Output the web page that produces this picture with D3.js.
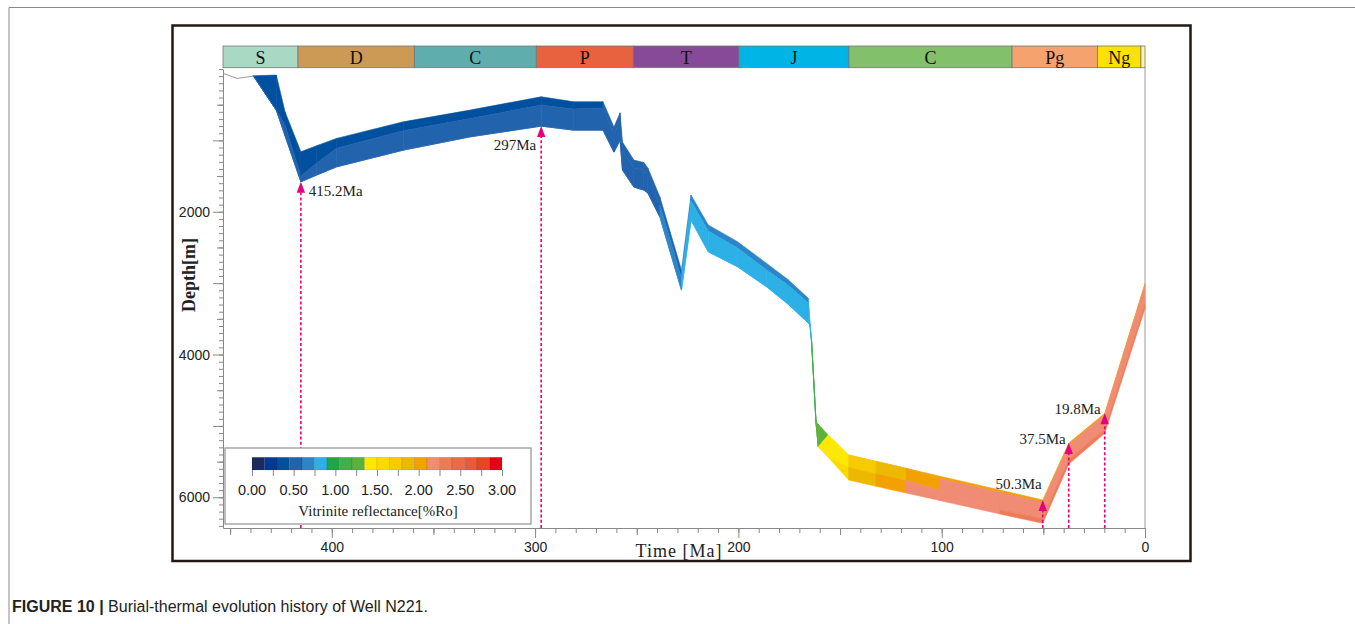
<!DOCTYPE html>
<html>
<head>
<meta charset="utf-8">
<script src="https://cdn.jsdelivr.net/npm/d3@7"></script>
<style>
  body { margin: 0; background: #fff; }
  svg { display: block; }
</style>
</head>
<body>
<svg id="chart" width="1355" height="624"></svg>
<script>
// ---- geological periods (Ma) ----
var periodNames = ["S", "D", "C", "P", "T", "J", "C", "Pg", "Ng", ""];
var periodStart = [453.5, 416.6, 359.4, 299.4, 251.7, 199.7, 145.6, 65.4, 23.4, 2];
var periodEnd   = [416.6, 359.4, 299.4, 251.7, 199.7, 145.6, 65.4, 23.4, 2, 0];
var periodColors = ["#a9d9c5", "#cd9a55", "#5fadad", "#e9623f", "#874a98",
                    "#00b5e5", "#82c06b", "#f5a26f", "#fde102", "#fff59d"];

// ---- burial history: age (Ma) and depth (m) of the surfaces ----
var ages = [438.6, 427.3, 423.0, 415.2, 407.4, 397.6, 364.8, 332.0, 297, 281.1,
            266.6, 261.2, 258.2, 257.0, 251.4, 246.5, 244.5, 238.6, 228.0, 223.3,
            214.8, 200.4, 186.1, 175.6, 165.6, 164.8, 164.0, 161.8, 160.7, 155.8,
            145.8, 132.3, 117.6, 100.9, 71.3, 50.3, 37.5, 19.8, 0];
var depthTop = [95, 85, 599, 1160, 1074, 972, 740, 576, 389, 459,
                459, 814, 613, 1024, 1276, 1311, 1388, 1794, 2817, 1766,
                2186, 2420, 2723, 2950, 3213, 3559, 3797, 4941, 4976, 5128,
                5408, 5497, 5594, 5705, 5898, 6038, 5240, 4824, 3003];
var depthA   = [95, 576, 786, 1500, 1322, 1110, 865, 695, 505, 560,
                548, 926, 725, 1136, 1388, 1416, 1486, 1906, 2929, 1850,
                2270, 2508, 2817, 3027, 3279, 3573, 3811, 4954, 5291, 5128,
                5408, 5497, 5594, 5740, 5930, 6065, 5262, 4845, 3025];
var depthB   = [95, 576, 934, 1580, 1485, 1370, 1136, 950, 800, 856,
                856, 1164, 996, 1416, 1654, 1696, 1738, 2074, 3097, 2116,
                2560, 2770, 3051, 3293, 3559, 3587, 3825, 4967, 5291, 5439,
                5583, 5670, 5766, 5900, 6180, 6300, 5470, 5045, 3290];
var depthBase = [95, 576, 934, 1580, 1485, 1370, 1136, 950, 800, 856,
                 856, 1164, 996, 1416, 1654, 1696, 1738, 2074, 3097, 2116,
                 2560, 2770, 3051, 3293, 3559, 3587, 3825, 4967, 5291, 5439,
                 5758, 5845, 5938, 6045, 6234, 6364, 5534, 5104, 3353];

// vitrinite reflectance (%Ro) of each sub-layer, per time interval
var roUpper  = [0.38, 0.38, 0.38, 0.38, 0.38, 0.38, 0.38, 0.38, 0.38, 0.38,
                0.52, 0.52, 0.52, 0.52, 0.52, 0.52, 0.52, 0.52, 0.65, 0.65,
                0.65, 0.65, 0.65, 0.65, 0.8, 0.8, 1.1, 1.28, 1.28, 1.42,
                1.72, 1.88, 2.02, 2.02, 2.02, 2.02, 2.02, 2.02];
var roMiddle = [0.52, 0.52, 0.52, 0.52, 0.52, 0.52, 0.52, 0.52, 0.52, 0.52,
                0.52, 0.52, 0.52, 0.52, 0.52, 0.52, 0.52, 0.65, 0.8, 0.8,
                0.8, 0.8, 0.8, 0.8, 0.8, 0.8, 1.1, 1.28, 1.42, 1.42,
                1.72, 1.88, 2.02, 2.18, 2.18, 2.18, 2.18, 2.18];
var roLower  = [0.52, 0.52, 0.52, 0.52, 0.52, 0.52, 0.52, 0.52, 0.52, 0.52,
                0.52, 0.52, 0.52, 0.52, 0.52, 0.52, 0.52, 0.65, 0.8, 0.8,
                0.8, 0.8, 0.8, 0.8, 0.8, 0.8, 1.1, 1.28, 1.42, 1.6,
                1.88, 2.02, 2.18, 2.18, 2.32, 2.32, 2.32, 2.32];

// ground surface before deposition
var surfaceAges = [453.5, 446.6, 438.6];
var surfaceDepth = [60, 132, 100];

// annotated ages
var markerAges = [415.2, 297, 50.3, 37.5, 19.8];
var markerLabels = ["415.2Ma", "297Ma", "50.3Ma", "37.5Ma", "19.8Ma"];
var markerTipDepth = [1580, 800, 6038, 5240, 4824];

// legend
var roColors = ["#1d2b5c", "#003a92", "#0050a0", "#2263ae", "#2a86c8",
                "#2cb0e6", "#1fa649", "#3fb04c", "#5bb238", "#fde800",
                "#fcd900", "#f8ca00", "#edb900", "#f3a100", "#ef8c73",
                "#ee7b58", "#ec6a45", "#ea5a36", "#e74623", "#e60013"];
var legendLabels = ["0.00", "0.50", "1.00", "1.50.", "2.00", "2.50", "3.00"];

var SANS = "'Liberation Sans', Arial, sans-serif";
var SERIF = "'Liberation Serif', 'Times New Roman', serif";

var svg = d3.select("#chart");

// page frame
svg.append("line").attr("x1", 9).attr("y1", 7.5).attr("x2", 1355).attr("y2", 7.5)
  .attr("stroke", "#8a8a8a").attr("stroke-width", 1);
svg.append("line").attr("x1", 9).attr("y1", 7.5).attr("x2", 9).attr("y2", 624)
  .attr("stroke", "#8a8a8a").attr("stroke-width", 1);

// figure border
svg.append("rect").attr("x", 172.5).attr("y", 25.5).attr("width", 1018).attr("height", 535.5)
  .attr("fill", "none").attr("stroke", "#231815").attr("stroke-width", 2.5);

var x = d3.scaleLinear().domain([453.5, 0]).range([223, 1145]);
var y = d3.scaleLinear().domain([0, 6430]).range([69, 528]);
var roColor = d3.scaleQuantize().domain([0, 3]).range(roColors);

// ---- period bar ----
var bar = svg.append("g");
bar.selectAll("rect").data(periodNames).enter().append("rect")
  .attr("x", function(d, i){ return x(periodStart[i]); })
  .attr("y", 46)
  .attr("width", function(d, i){ return x(periodEnd[i]) - x(periodStart[i]); })
  .attr("height", 21.7)
  .attr("fill", function(d, i){ return periodColors[i]; })
  .attr("stroke", "#777").attr("stroke-width", 0.8);
bar.selectAll("text").data(periodNames).enter().append("text")
  .attr("x", function(d, i){ return (x(periodStart[i]) + x(periodEnd[i])) / 2; })
  .attr("y", 63.5)
  .attr("text-anchor", "middle")
  .attr("font-family", SERIF).attr("font-size", 18).attr("fill", "#111")
  .text(function(d){ return d; });

// right edge of plot
svg.append("line").attr("x1", 1145).attr("x2", 1145).attr("y1", 67.7).attr("y2", 528)
  .attr("stroke", "#999").attr("stroke-width", 1);

// ---- axes ----
function styleAxis(g, keepDomain) {
  g.selectAll(".tick line").attr("stroke", "#888");
  g.select(".domain").attr("stroke", keepDomain ? "#888" : "none");
  g.selectAll("text").attr("font-family", SANS).attr("font-size", 14).attr("fill", "#222");
}
var xg = svg.append("g").attr("transform", "translate(0,528)");
xg.append("g").call(d3.axisBottom(x).tickValues(d3.range(0, 451, 10)).tickSize(5).tickSizeOuter(0).tickFormat(""))
  .call(styleAxis, true);
xg.append("g").call(d3.axisBottom(x).tickValues([50, 150, 250, 350, 450]).tickSize(7).tickSizeOuter(0).tickFormat(""))
  .call(styleAxis, false);
xg.append("g").call(d3.axisBottom(x).tickValues([0, 100, 200, 300, 400]).tickSize(10).tickSizeOuter(0).tickPadding(4).tickFormat(d3.format("d")))
  .call(styleAxis, false);

var yg = svg.append("g").attr("transform", "translate(223,0)");
yg.append("g").call(d3.axisLeft(y).tickValues(d3.range(0, 6401, 100)).tickSize(4).tickSizeOuter(0).tickFormat(""))
  .call(styleAxis, true);
yg.append("g").call(d3.axisLeft(y).tickValues(d3.range(500, 6401, 1000)).tickSize(6).tickSizeOuter(0).tickFormat(""))
  .call(styleAxis, false);
yg.append("g").call(d3.axisLeft(y).tickValues(d3.range(1000, 6401, 1000)).tickSize(10).tickSizeOuter(0).tickPadding(3)
    .tickFormat(function(d){ return d % 2000 === 0 ? d : ""; }))
  .call(styleAxis, false);

svg.append("text").attr("transform", "translate(195,275) rotate(-90)")
  .attr("text-anchor", "middle").attr("font-family", SERIF).attr("font-size", 18)
  .attr("font-weight", "bold").attr("fill", "#222").text("Depth[m]");
svg.append("text").attr("x", 679).attr("y", 556.5)
  .attr("text-anchor", "middle").attr("font-family", SERIF).attr("font-size", 18)
  .attr("letter-spacing", 1).attr("fill", "#222").text("Time [Ma]");

// ---- burial band ----
var surfaces = [depthTop, depthA, depthB, depthBase];
var roLayers = [roUpper, roMiddle, roLower];
var cells = [];
for (var i = 0; i < ages.length - 1; i++) {
  for (var k = 0; k < 3; k++) {
    cells.push({
      pts: [[x(ages[i]), y(surfaces[k][i])], [x(ages[i + 1]), y(surfaces[k][i + 1])],
            [x(ages[i + 1]), y(surfaces[k + 1][i + 1])], [x(ages[i]), y(surfaces[k + 1][i])]],
      ro: roLayers[k][i]
    });
  }
}
svg.append("g").selectAll("polygon").data(cells).enter().append("polygon")
  .attr("points", function(d){ return d.pts.map(function(p){ return p.join(","); }).join(" "); })
  .attr("fill", function(d){ return roColor(d.ro); })
  .attr("stroke", function(d){ return roColor(d.ro); })
  .attr("stroke-width", 0.6).attr("stroke-linejoin", "round");

svg.append("path")
  .datum(d3.zip(surfaceAges, surfaceDepth))
  .attr("d", d3.line().x(function(d){ return x(d[0]); }).y(function(d){ return y(d[1]); }))
  .attr("fill", "none").attr("stroke", "#999").attr("stroke-width", 1);

// ---- age markers ----
var MAGENTA = "#e5007f";
var labelPos = [
  {dx: 8, dy: 14, anchor: "start"},
  {dx: -5, dy: 24, anchor: "end"},
  {dx: -1, dy: -11, anchor: "end"},
  {dx: -3, dy: 1, anchor: "end"},
  {dx: -4, dy: 1, anchor: "end"}
];
var mk = svg.append("g").selectAll("g").data(markerAges).enter().append("g");
mk.append("line")
  .attr("x1", function(d){ return x(d); }).attr("x2", function(d){ return x(d); })
  .attr("y1", 528).attr("y2", function(d, i){ return y(markerTipDepth[i]) + 9; })
  .attr("stroke", MAGENTA).attr("stroke-width", 1.6).attr("stroke-dasharray", "3,2.2");
mk.append("path")
  .attr("d", function(d, i){
    var px = x(d), py = y(markerTipDepth[i]);
    return "M" + px + "," + py + "L" + (px + 4.2) + "," + (py + 11) + "L" + (px - 4.2) + "," + (py + 11) + "Z";
  })
  .attr("fill", MAGENTA);
mk.append("text")
  .attr("x", function(d, i){ return x(d) + labelPos[i].dx; })
  .attr("y", function(d, i){ return y(markerTipDepth[i]) + labelPos[i].dy; })
  .attr("text-anchor", function(d, i){ return labelPos[i].anchor; })
  .attr("font-family", SERIF).attr("font-size", 15).attr("fill", "#222")
  .text(function(d, i){ return markerLabels[i]; });

// ---- legend ----
var lg = svg.append("g");
lg.append("rect").attr("x", 225).attr("y", 448).attr("width", 306).attr("height", 76)
  .attr("fill", "#fff").attr("stroke", "#9a9a9a").attr("stroke-width", 1.3);
var lx = d3.scaleLinear().domain([0, 3]).range([252, 502]);
lg.selectAll("rect.bin").data(roColors).enter().append("rect").attr("class", "bin")
  .attr("x", function(d, i){ return lx(i * 0.15); })
  .attr("y", 457.3)
  .attr("width", lx(0.15) - lx(0))
  .attr("height", 12.7)
  .attr("fill", function(d){ return d; })
  .attr("stroke", "rgba(0,0,0,0.18)").attr("stroke-width", 0.5);
lg.append("g").attr("transform", "translate(0,470)")
  .call(d3.axisBottom(lx).tickValues(d3.range(0, 3.01, 0.25)).tickSize(6).tickSizeOuter(0).tickFormat(""))
  .call(function(g){
    g.select(".domain").remove();
    g.selectAll(".tick line").attr("stroke", "#888");
  });
lg.selectAll("text.lab").data(legendLabels).enter().append("text").attr("class", "lab")
  .attr("x", function(d, i){ return lx(i * 0.5); })
  .attr("y", 495)
  .attr("text-anchor", "middle")
  .attr("font-family", SANS).attr("font-size", 14.5).attr("fill", "#222")
  .text(function(d){ return d; });
lg.append("text").attr("x", 378).attr("y", 516)
  .attr("text-anchor", "middle").attr("font-family", SERIF).attr("font-size", 15)
  .attr("fill", "#222").text("Vitrinite reflectance[%Ro]");

// ---- caption ----
var cap = svg.append("text").attr("x", 12).attr("y", 611.5)
  .attr("font-family", SANS).attr("font-size", 16).attr("fill", "#222");
cap.append("tspan").attr("font-weight", "bold").text("FIGURE 10 | ");
cap.append("tspan").text("Burial-thermal evolution history of Well N221.");
</script>
</body>
</html>
